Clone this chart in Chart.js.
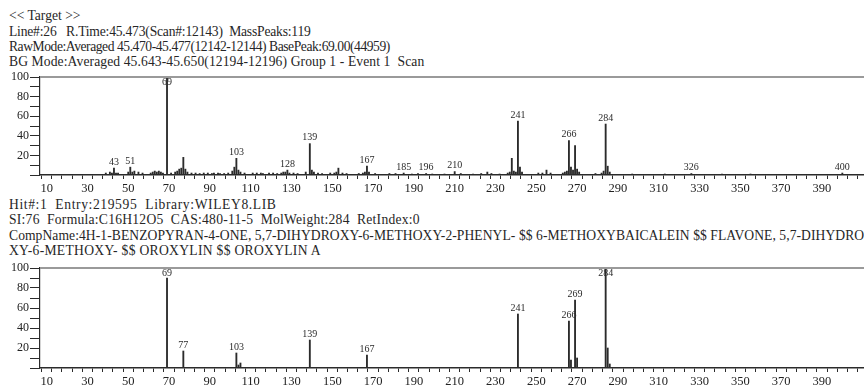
<!DOCTYPE html>
<html>
<head>
<meta charset="utf-8">
<script src="https://cdn.jsdelivr.net/npm/chart.js@4.4.1/dist/chart.umd.min.js"></script>
<style>
  html, body { margin: 0; padding: 0; background: #fff; width: 864px; height: 385px; overflow: hidden; }
  .txt { position: absolute; left: 9px; font-family: "Liberation Serif", "Times New Roman", serif; font-size: 13.6px; line-height: 15px; color: #262626; white-space: nowrap; }
  .box { position: absolute; left: 0; width: 864px; }
</style>
</head>
<body>
<div class="txt" style="top:8px">&lt;&lt; Target &gt;&gt;</div>
<div class="txt" style="top:24px;letter-spacing:-0.2px">Line#:26&nbsp;&nbsp; R.Time:45.473(Scan#:12143)&nbsp; MassPeaks:119</div>
<div class="txt" style="top:39px;letter-spacing:-0.45px">RawMode:Averaged 45.470-45.477(12142-12144) BasePeak:69.00(44959)</div>
<div class="txt" style="top:54px;letter-spacing:0.1px">BG Mode:Averaged 45.643-45.650(12194-12196) Group 1 - Event 1&nbsp; Scan</div>

<div class="box" style="top:66px;height:131px"><canvas id="top"></canvas></div>

<div class="txt" style="top:197px;letter-spacing:0.6px">Hit#:1&nbsp; Entry:219595&nbsp; Library:WILEY8.LIB</div>
<div class="txt" style="top:212px;letter-spacing:0.25px">SI:76&nbsp; Formula:C16H12O5&nbsp; CAS:480-11-5&nbsp; MolWeight:284&nbsp; RetIndex:0</div>
<div class="txt" style="top:228px;letter-spacing:0.06px">CompName:4H-1-BENZOPYRAN-4-ONE, 5,7-DIHYDROXY-6-METHOXY-2-PHENYL- $$ 6-METHOXYBAICALEIN $$ FLAVONE, 5,7-DIHYDRO</div>
<div class="txt" style="top:243px;letter-spacing:0.3px">XY-6-METHOXY- $$ OROXYLIN $$ OROXYLIN A</div>

<div class="box" style="top:257px;height:133px"><canvas id="bottom"></canvas></div>

<script>
// Measured spectrum (m/z vs relative intensity, %)
const targetMz = [39, 41, 42, 43, 44, 45, 50, 51, 52, 53, 55, 57, 61, 62, 63, 64, 65, 66, 67, 69,
  71, 73, 74, 75, 76, 77, 78, 79, 81, 83, 85, 87, 89, 91, 92, 94, 95, 97, 99, 101, 102, 103, 104, 105,
  107, 111, 113, 115, 116, 119, 121, 123, 125, 126, 127, 128, 129, 131, 133, 137, 139, 140, 141, 143,
  145, 149, 151, 152, 153, 155, 157, 163, 165, 166, 167, 168, 171, 178, 181, 185, 189, 192, 196, 199,
  205, 210, 213, 219, 223, 226, 228, 232, 236, 237, 238, 239, 240, 241, 242, 243, 251, 253, 255, 257,
  263, 264, 265, 266, 267, 268, 269, 270, 271, 279, 282, 283, 284, 285, 286, 297, 313, 326, 341, 355, 400];
const targetInt = [2, 3, 2, 7, 2, 2, 3, 8, 3, 4, 3, 2, 2, 3, 4, 3, 4, 3, 2, 100,
  2, 3, 4, 6, 7, 18, 6, 3, 2, 2, 1.5, 2, 2, 1.5, 2, 2, 1.5, 1.5, 2, 4, 8, 17, 5, 3,
  2, 2, 2, 2, 1.5, 2, 2, 1.5, 2, 3, 3, 5, 2, 2, 1.5, 3, 32, 5, 3, 2,
  1.5, 2, 2, 3, 7, 2, 1.5, 1.5, 2, 3, 9, 3, 1.5, 1.5, 1.5, 2, 1, 1.5, 1.5, 1,
  1, 3.5, 1.5, 1, 1.5, 3, 1.5, 1, 2, 3, 17, 4, 3, 55, 8, 3, 2, 2, 5, 2,
  2, 3, 4, 35, 8, 5, 30, 6, 3, 1.5, 2, 4, 52, 9, 3, 1, 1, 1.5, 1, 1, 2];
const targetLabels = [43, 51, 69, 103, 128, 139, 167, 185, 196, 210, 241, 266, 284, 326, 400];

// Library reference spectrum
const libraryMz = [69, 77, 103, 104, 105, 139, 167, 241, 266, 267, 269, 270, 284, 285, 286];
const libraryInt = [90, 17, 15, 3, 5, 28, 13, 54, 47, 8, 68, 10, 100, 20, 4];
const libraryLabels = [69, 77, 103, 139, 167, 241, 266, 269, 284];

// Axis ticks
const xTickValues = [];
for (let v = 10; v <= 405; v += 5) xTickValues.push(v);
const xLabelled = [10, 30, 50, 70, 90, 110, 130, 150, 170, 190, 210, 230, 250, 270, 290, 310, 330, 350, 370, 390];
const yTickValues = [0, 10, 20, 30, 40, 50, 60, 70, 80, 90, 100];
const yLabelled = [20, 40, 60, 80, 100];

const INK = '#2b2b2b';
const SERIF = '"Liberation Serif", "Times New Roman", serif';

// Peak annotations and the grey frame line across the top of the plot
const peakLabelPlugin = {
  id: 'peakLabels',
  afterDatasetsDraw(chart, args, opts) {
    const { ctx, chartArea, scales } = chart;
    const pts = chart.data.datasets[0].data;
    ctx.save();
    ctx.strokeStyle = '#9a9a9a';
    ctx.lineWidth = 2;
    ctx.beginPath();
    ctx.moveTo(chartArea.left, chartArea.top);
    ctx.lineTo(chartArea.right, chartArea.top);
    ctx.stroke();
    ctx.font = '10px ' + SERIF;
    ctx.fillStyle = INK;
    ctx.textAlign = 'center';
    ctx.textBaseline = 'middle';
    opts.labels.forEach(mz => {
      const p = pts.find(d => d.x === mz);
      if (!p) return;
      const px = scales.x.getPixelForValue(p.x);
      const py = scales.y.getPixelForValue(p.y);
      const ty = Math.max(py - 6, chartArea.top + 5);
      ctx.fillText(String(mz), px, ty);
    });
    ctx.restore();
  }
};

function spectrum(id, mz, inten, labels) {
  const data = mz.map((m, i) => ({ x: m, y: inten[i] }));
  return new Chart(document.getElementById(id), {
    type: 'bar',
    data: { datasets: [{ data, backgroundColor: INK, borderWidth: 0, barThickness: 1.2 }] },
    options: {
      responsive: true,
      maintainAspectRatio: false,
      animation: false,
      events: [],
      layout: { padding: { top: 11, right: 0, left: 0, bottom: 0 } },
      plugins: { legend: { display: false }, tooltip: { enabled: false }, peakLabels: { labels } },
      scales: {
        x: {
          type: 'linear',
          min: 9.27,
          max: 408.1,
          afterBuildTicks: s => { s.ticks = xTickValues.map(v => ({ value: v })); },
          afterFit: s => { s.height = 22; },
          grid: { drawOnChartArea: false, drawTicks: true, tickLength: 4, color: INK },
          border: { display: true, color: INK, width: 1.5 },
          ticks: {
            autoSkip: false, maxRotation: 0, minRotation: 0, padding: 2,
            color: '#222', font: { family: SERIF, size: 12.5 },
            callback: v => xLabelled.includes(v) ? String(v) : ''
          }
        },
        y: {
          min: 0,
          max: 100,
          afterBuildTicks: s => { s.ticks = yTickValues.map(v => ({ value: v })); },
          afterFit: s => { s.width = 40; },
          grid: { drawOnChartArea: false, drawTicks: true, tickLength: 10, color: INK },
          border: { display: true, color: INK, width: 1.2 },
          ticks: {
            autoSkip: false, padding: 1,
            color: '#222', font: { family: SERIF, size: 12 },
            callback: v => yLabelled.includes(v) ? String(v) : ''
          }
        }
      }
    },
    plugins: [peakLabelPlugin]
  });
}

spectrum('top', targetMz, targetInt, targetLabels);
spectrum('bottom', libraryMz, libraryInt, libraryLabels);
</script>
</body>
</html>
